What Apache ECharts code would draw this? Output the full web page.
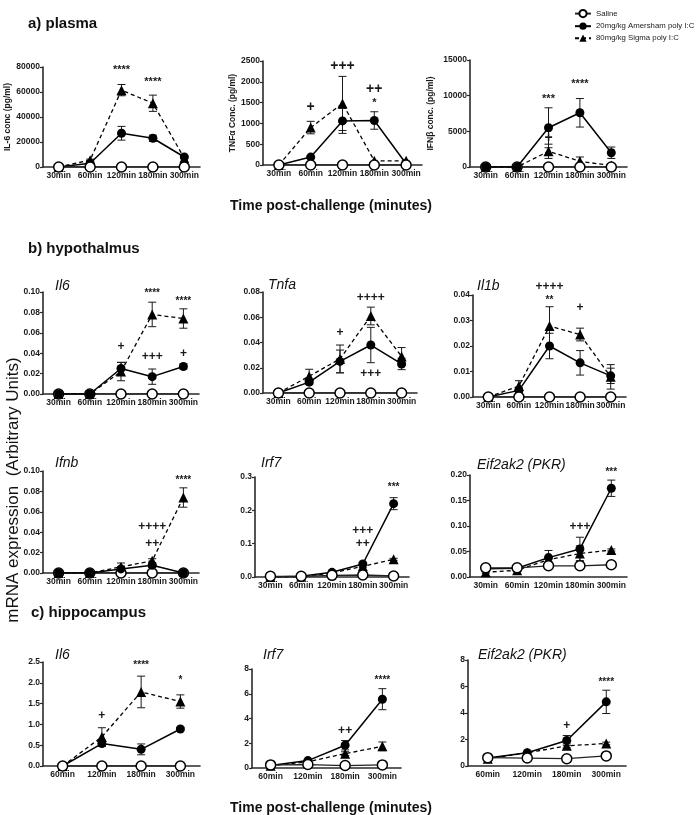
<!DOCTYPE html>
<html><head><meta charset="utf-8">
<script src="https://cdn.jsdelivr.net/npm/echarts@6/dist/echarts.min.js"></script>
<style>html,body{margin:0;padding:0;background:#fff}#c{width:699px;height:815px}</style>
</head><body><div id="c"></div>
<script>
const FONT = 'Liberation Sans, Arial, sans-serif';
const cat5 = ['30min', '60min', '120min', '180min', '300min'];
const cat4 = ['60min', '120min', '180min', '300min'];
const seriesNames = ['Saline', '20mg/kg Amersham poly I:C', '80mg/kg Sigma poly I:C'];

// a) plasma IL-6
const p1Saline = [0, 0, 0, 0, 0];
const p1Amer = [0, 3000, 27000, 23000, 8000];
const p1AmerErr = [0, 600, 5500, 2500, 800];
const p1Sig = [0, 5500, 61500, 51000, 7000];
const p1SigErr = [0, 800, 4500, 6500, 0];
const p1Marks = [[2, 78000, '****'], [3, 68000, '****']];
// a) plasma TNFa
const p2Saline = [0, 0, 0, 0, 0];
const p2Amer = [0, 190, 1060, 1070, 30];
const p2AmerErr = [0, 30, 300, 210, 0];
const p2Sig = [0, 900, 1480, 100, 100];
const p2SigErr = [0, 150, 650, 0, 0];
const p2Marks = [[1, 1400, '+'], [2, 2380, '+++'], [3, 1820, '++'], [3, 1480, '*']];
// a) plasma IFNb
const p3Saline = [0, 0, 0, 0, 0];
const p3Amer = [0, 0, 5500, 7600, 2000];
const p3AmerErr = [0, 0, 2800, 2000, 800];
const p3Sig = [0, 0, 2200, 800, 200];
const p3SigErr = [0, 0, 1000, 600, 0];
const p3Marks = [[2, 9600, '***'], [2, 4100, '+'], [3, 11600, '****']];
// b) hypothalamus Il6
const p4Saline = [0, 0, 0, 0, 0];
const p4Amer = [0, 0, 0.025, 0.017, 0.027];
const p4AmerErr = [0, 0, 0.006, 0.0075, 0.0025];
const p4Sig = [0, 0, 0.022, 0.078, 0.074];
const p4SigErr = [0, 0, 0.009, 0.012, 0.0095];
const p4Marks = [[2, 0.046, '+'], [3, 0.099, '****'], [3, 0.037, '+++'], [4, 0.091, '****'], [4, 0.040, '+']];
// Tnfa
const p5Saline = [0, 0, 0, 0, 0];
const p5Amer = [0, 0.0086, 0.025, 0.038, 0.023];
const p5AmerErr = [0, 0.002, 0.009, 0.014, 0.0045];
const p5Sig = [0, 0.0133, 0.027, 0.061, 0.029];
const p5SigErr = [0, 0.0055, 0.011, 0.007, 0.007];
const p5Marks = [[2, 0.048, '+'], [3, 0.0755, '++++'], [3, 0.015, '+++']];
// Il1b
const p6Saline = [0, 0, 0, 0, 0];
const p6Amer = [0, 0.0026, 0.020, 0.0134, 0.0083];
const p6AmerErr = [0, 0.001, 0.005, 0.0048, 0.003];
const p6Sig = [0, 0.0043, 0.0278, 0.0245, 0.0079];
const p6SigErr = [0, 0.0021, 0.0076, 0.0025, 0.0048];
const p6Marks = [[2, 0.0433, '++++'], [2, 0.038, '**'], [3, 0.035, '+']];
// Ifnb
const p7Saline = [0, 0, 0, 0, 0];
const p7Amer = [0, 0, 0.004, 0.0075, 0];
const p7AmerErr = [0, 0, 0.002, 0.002, 0];
const p7Sig = [0, 0, 0.006, 0.012, 0.074];
const p7SigErr = [0, 0, 0.0038, 0.002, 0.0095];
const p7Marks = [[3, 0.0456, '++++'], [3, 0.0283, '++'], [4, 0.0905, '****']];
// Irf7
const p8Saline = [0.002, 0.002, 0.005, 0.006, 0.003];
const p8Amer = [0, 0.002, 0.014, 0.039, 0.220];
const p8AmerErr = [0, 0, 0.002, 0.004, 0.018];
const p8Sig = [0, 0.001, 0.012, 0.032, 0.053];
const p8SigErr = [0, 0, 0.002, 0.003, 0.003];
const p8Marks = [[3, 0.138, '+++'], [3, 0.099, '++'], [4, 0.268, '***']];
// Eif2ak2 (PKR) hypothalamus
const p9Saline = [0.018, 0.018, 0.022, 0.022, 0.024];
const p9Amer = [0.016, 0.017, 0.038, 0.055, 0.174];
const p9AmerErr = [0.002, 0.002, 0.014, 0.023, 0.016];
const p9Sig = [0.0095, 0.013, 0.034, 0.046, 0.053];
const p9SigErr = [0.002, 0.002, 0.004, 0.015, 0.002];
const p9Marks = [[3, 0.099, '+++'], [4, 0.205, '***']];
// c) hippocampus Il6
const p10Saline = [0, 0, 0, 0];
const p10Amer = [0, 0.54, 0.40, 0.89];
const p10AmerErr = [0, 0.07, 0.13, 0.04];
const p10Sig = [0, 0.70, 1.78, 1.55];
const p10SigErr = [0, 0.22, 0.38, 0.16];
const p10Marks = [[1, 1.21, '+'], [2, 2.41, '****'], [3, 2.06, '*']];
// Irf7 hippocampus
const p11Saline = [0.25, 0.28, 0.2, 0.25];
const p11Amer = [0.2, 0.6, 1.84, 5.56];
const p11AmerErr = [0.05, 0.08, 0.38, 0.85];
const p11Sig = [0.18, 0.5, 1.16, 1.75];
const p11SigErr = [0.03, 0.05, 0.15, 0.35];
const p11Marks = [[2, 3.05, '++'], [3, 7.1, '****']];
// Eif2ak2 (PKR) hippocampus
const p12Saline = [0.63, 0.6, 0.55, 0.76];
const p12Amer = [0.6, 1.0, 1.93, 4.84];
const p12AmerErr = [0.05, 0.1, 0.37, 0.88];
const p12Sig = [0.55, 1.0, 1.52, 1.70];
const p12SigErr = [0.05, 0.08, 0.15, 0.1];
const p12Marks = [[2, 3.08, '+'], [3, 6.35, '****']];

const panels = [
  {cats: cat5, s: p1Saline, a: p1Amer, ae: p1AmerErr, g: p1Sig, ge: p1SigErr, m: p1Marks, max: 80000, iv: 20000, dec: 0, grid: [43, 67, 157, 100], yName: 'IL-6 conc (pg/ml)', gap: 31, salTop: true, big: true},
  {cats: cat5, s: p2Saline, a: p2Amer, ae: p2AmerErr, g: p2Sig, ge: p2SigErr, m: p2Marks, max: 2500, iv: 500, dec: 0, grid: [263, 61, 159, 104], yName: 'TNFα Conc. (pg/ml)', gap: 25, salTop: true, big: true},
  {cats: cat5, s: p3Saline, a: p3Amer, ae: p3AmerErr, g: p3Sig, ge: p3SigErr, m: p3Marks, max: 15000, iv: 5000, dec: 0, grid: [470, 60, 157, 107], yName: 'IFNβ conc. (pg/ml)', gap: 35, salTop: false, big: true},
  {cats: cat5, s: p4Saline, a: p4Amer, ae: p4AmerErr, g: p4Sig, ge: p4SigErr, m: p4Marks, max: 0.10, iv: 0.02, dec: 2, grid: [43, 292, 156, 102], title: 'Il6', tp: [55, 286], salTop: false},
  {cats: cat5, s: p5Saline, a: p5Amer, ae: p5AmerErr, g: p5Sig, ge: p5SigErr, m: p5Marks, max: 0.08, iv: 0.02, dec: 2, grid: [263, 292, 154, 101], title: 'Tnfa', tp: [268, 285], salTop: true},
  {cats: cat5, s: p6Saline, a: p6Amer, ae: p6AmerErr, g: p6Sig, ge: p6SigErr, m: p6Marks, max: 0.04, iv: 0.01, dec: 2, grid: [473, 295, 153, 102], title: 'Il1b', tp: [477, 286], salTop: true},
  {cats: cat5, s: p7Saline, a: p7Amer, ae: p7AmerErr, g: p7Sig, ge: p7SigErr, m: p7Marks, max: 0.10, iv: 0.02, dec: 2, grid: [43, 471, 156, 102], title: 'Ifnb', tp: [55, 463], salTop: false},
  {cats: cat5, s: p8Saline, a: p8Amer, ae: p8AmerErr, g: p8Sig, ge: p8SigErr, m: p8Marks, max: 0.3, iv: 0.1, dec: 1, grid: [255, 477, 154, 100], title: 'Irf7', tp: [261, 463], salTop: true},
  {cats: cat5, s: p9Saline, a: p9Amer, ae: p9AmerErr, g: p9Sig, ge: p9SigErr, m: p9Marks, max: 0.20, iv: 0.05, dec: 2, grid: [470, 475, 157, 102], title: 'Eif2ak2 (PKR)', tp: [477, 465], salTop: true},
  {cats: cat4, s: p10Saline, a: p10Amer, ae: p10AmerErr, g: p10Sig, ge: p10SigErr, m: p10Marks, max: 2.5, iv: 0.5, dec: 1, grid: [43, 662, 157, 104], title: 'Il6', tp: [55, 655], salTop: true},
  {cats: cat4, s: p11Saline, a: p11Amer, ae: p11AmerErr, g: p11Sig, ge: p11SigErr, m: p11Marks, max: 8, iv: 2, dec: 0, grid: [252, 669, 149, 99], title: 'Irf7', tp: [263, 655], salTop: true},
  {cats: cat4, s: p12Saline, a: p12Amer, ae: p12AmerErr, g: p12Sig, ge: p12SigErr, m: p12Marks, max: 8, iv: 2, dec: 0, grid: [468, 660, 158, 106], title: 'Eif2ak2 (PKR)', tp: [478, 655], salTop: true}
];

const INK = '#1a1a1a';
const grids = [], xAxes = [], yAxes = [], series = [];
const graphic = [];

function errRender(params, api) {
  const i = api.value(0), v = api.value(1), e = api.value(2);
  if (!e) return null;
  const c = api.coord([i, v]), t = api.coord([i, v + e]), b = api.coord([i, v - e]);
  const w = 4;
  const st = {stroke: INK, lineWidth: 1};
  return {type: 'group', children: [
    {type: 'line', shape: {x1: c[0], y1: t[1], x2: c[0], y2: b[1]}, style: st},
    {type: 'line', shape: {x1: c[0] - w, y1: t[1], x2: c[0] + w, y2: t[1]}, style: st},
    {type: 'line', shape: {x1: c[0] - w, y1: b[1], x2: c[0] + w, y2: b[1]}, style: st}
  ]};
}

panels.forEach((p, k) => {
  grids.push({left: p.grid[0], top: p.grid[1], width: p.grid[2], height: p.grid[3], containLabel: false});
  xAxes.push({type: 'category', gridIndex: k, data: p.cats, boundaryGap: true,
    axisLine: {lineStyle: {color: '#2a2a2a', width: 1.6}}, axisTick: {show: false},
    axisLabel: {interval: 0, margin: 4, fontFamily: FONT, fontWeight: 'bold', fontSize: 8.5, color: INK}});
  yAxes.push({type: 'value', gridIndex: k, min: 0, max: p.max, interval: p.iv,
    name: p.yName || '', nameLocation: 'middle', nameRotate: 90, nameGap: p.gap || 0,
    nameTextStyle: {fontFamily: FONT, fontWeight: 'bold', fontSize: 8.5, color: INK},
    axisLine: {show: true, lineStyle: {color: '#2a2a2a', width: 1.6}},
    axisTick: {show: true, length: 3, lineStyle: {color: '#2a2a2a', width: 1.2}},
    splitLine: {show: false},
    axisLabel: {margin: 3, fontFamily: FONT, fontWeight: 'bold', fontSize: 8.5, color: INK,
      formatter: v => v.toFixed(p.dec)}});
  const salZ = p.salTop ? 5 : 3;
  const base = {type: 'line', xAxisIndex: k, yAxisIndex: k, showAllSymbol: true, animation: false, silent: true};
  series.push(Object.assign({}, base, {name: seriesNames[2], data: p.g, symbol: 'triangle', symbolSize: 10, z: 3,
    itemStyle: {color: '#000'}, lineStyle: {color: '#000', width: 1.3, type: [4, 3]}}));
  series.push(Object.assign({}, base, {name: seriesNames[1], data: p.a, symbol: 'circle', symbolSize: 9, z: 4,
    itemStyle: {color: '#000'}, lineStyle: {color: '#000', width: 1.5}}));
  series.push(Object.assign({}, base, {name: seriesNames[0], data: p.s, symbol: 'circle', symbolSize: 10, z: salZ,
    itemStyle: {color: '#fff', borderColor: '#000', borderWidth: 1.5}, lineStyle: {color: '#222', width: 1.3}}));
  series.push({type: 'custom', xAxisIndex: k, yAxisIndex: k, z: 2, silent: true, animation: false, clip: false,
    renderItem: errRender, data: p.a.map((v, i) => [i, v, p.ae[i]])});
  series.push({type: 'custom', xAxisIndex: k, yAxisIndex: k, z: 2, silent: true, animation: false, clip: false,
    renderItem: errRender, data: p.g.map((v, i) => [i, v, p.ge[i]])});
  const marks = p.m;
  series.push({type: 'custom', xAxisIndex: k, yAxisIndex: k, z: 6, silent: true, animation: false, clip: false,
    data: marks.map(m => [m[0], m[1]]),
    renderItem: (params, api) => {
      const c = api.coord([api.value(0), api.value(1)]);
      const txt = marks[params.dataIndex][2];
      const isStar = txt.indexOf('*') >= 0;
      const fs = isStar ? (p.big ? 11 : 10) : (p.big ? 14 : 12);
      return {type: 'text', x: c[0], y: c[1], style: {text: txt, fill: INK,
        font: 'bold ' + fs + 'px ' + FONT, align: 'center', verticalAlign: 'middle'}};
    }});
  if (p.title) {
    graphic.push({type: 'text', x: p.tp[0], y: p.tp[1], style: {text: p.title, fill: '#111',
      font: 'italic 14px ' + FONT, align: 'left', verticalAlign: 'middle'}});
  }
});

graphic.push(
  {type: 'text', x: 28, y: 24, style: {text: 'a) plasma', fill: '#111', font: 'bold 15px ' + FONT, align: 'left', verticalAlign: 'middle'}},
  {type: 'text', x: 331, y: 206, style: {text: 'Time post-challenge (minutes)', fill: '#111', font: 'bold 14px ' + FONT, align: 'center', verticalAlign: 'middle'}},
  {type: 'text', x: 28, y: 249, style: {text: 'b) hypothalmus', fill: '#111', font: 'bold 15px ' + FONT, align: 'left', verticalAlign: 'middle'}},
  {type: 'text', x: 31, y: 613, style: {text: 'c) hippocampus', fill: '#111', font: 'bold 15px ' + FONT, align: 'left', verticalAlign: 'middle'}},
  {type: 'text', x: 331, y: 808, style: {text: 'Time post-challenge (minutes)', fill: '#111', font: 'bold 14px ' + FONT, align: 'center', verticalAlign: 'middle'}},
  {type: 'text', x: 13, y: 490, rotation: Math.PI / 2, style: {text: 'mRNA expression  (Arbitrary Units)', fill: '#111', font: '17px ' + FONT, align: 'center', verticalAlign: 'middle'}}
);

const chart = echarts.init(document.getElementById('c'), null, {renderer: 'canvas'});
chart.setOption({
  animation: false,
  backgroundColor: '#fff',
  legend: {data: seriesNames, orient: 'vertical', left: 569, top: 4, itemWidth: 16, itemHeight: 9, itemGap: 4,
    selectedMode: false, textStyle: {fontFamily: FONT, fontSize: 7.8, color: INK}},
  grid: grids, xAxis: xAxes, yAxis: yAxes, series: series, graphic: graphic
});
</script></body></html>
